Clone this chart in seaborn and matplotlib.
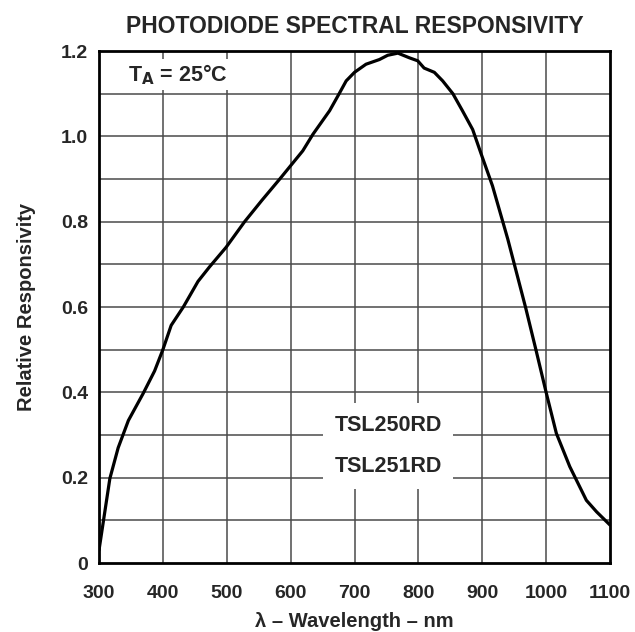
import matplotlib as mpl
import seaborn as sns
import pandas as pd
import numpy as np
plt = mpl.pyplot

# Curve
wavelength = [300, 317, 330, 346, 369, 387, 400, 413, 432, 455, 473, 499, 528,
              555, 583, 619, 635, 661, 676, 687, 700, 718, 739, 752, 768, 786,
              799, 809, 825, 838, 854, 869, 885, 898, 916, 940, 968, 984, 1000,
              1016, 1037, 1063, 1079, 1100]
responsivity = [0.03, 0.198, 0.27, 0.334, 0.397, 0.45, 0.50, 0.557, 0.60, 0.66,
                0.694, 0.74, 0.80, 0.85, 0.90, 0.966, 1.005, 1.06, 1.10, 1.13,
                1.15, 1.169, 1.18, 1.19, 1.195, 1.184, 1.177, 1.16, 1.15, 1.13,
                1.10, 1.06, 1.016, 0.96, 0.884, 0.759, 0.598, 0.50, 0.40, 0.304,
                0.226, 0.147, 0.12, 0.089]
x_ticks = [300, 400, 500, 600, 700, 800, 900, 1000, 1100]
y_ticks = [0, 0.2, 0.4, 0.6, 0.8, 1.0, 1.2]
y_tick_labels = ['0', '0.2', '0.4', '0.6', '0.8', '1.0', '1.2']

data = pd.DataFrame({'wl': wavelength, 'resp': responsivity})

sns.set_style('white')
mpl.rcParams['font.family'] = ['Liberation Sans', 'DejaVu Sans']
mpl.rcParams['font.weight'] = 'bold'

fig = plt.figure(figsize=(6.35, 6.32), dpi=100)
ax = fig.add_axes([99 / 635, 1 - 563 / 632, 511 / 635, 512 / 632])

# grid every 100 nm / 0.1
for x in range(400, 1100, 100):
    ax.axvline(x, color='#4a4a4a', lw=1.1, zorder=1)
for y in np.arange(0.1, 1.2, 0.1):
    ax.axhline(y, color='#4a4a4a', lw=1.1, zorder=1)

sns.lineplot(x='wl', y='resp', data=data, color='black', lw=2.3, ax=ax, zorder=3)

ax.set_xlim(300, 1100)
ax.set_ylim(0, 1.2)
ax.set_xticks(x_ticks)
ax.set_yticks(y_ticks)
ax.set_yticklabels(y_tick_labels)
ax.tick_params(length=0, labelsize=14, pad=8)
ax.tick_params(axis='x', pad=16)
for lab in ax.get_xticklabels() + ax.get_yticklabels():
    lab.set_fontweight('bold')
for s in ax.spines.values():
    s.set_linewidth(2.0)
    s.set_color('black')
    s.set_zorder(4)

ax.set_xlabel('λ – Wavelength – nm', fontsize=14.5, fontweight='bold', labelpad=7)
ax.set_ylabel('Relative Responsivity', fontsize=14.5, fontweight='bold', labelpad=18)
ax.set_title('PHOTODIODE SPECTRAL RESPONSIVITY', fontsize=16.5, fontweight='bold', pad=13)

ax.text(423, 1.145, r'T$_\mathbf{A}$ = 25°C', fontsize=15.5, fontweight='bold',
        ha='center', va='center', bbox=dict(facecolor='white', edgecolor='none', pad=2), zorder=2)
ax.text(753, 0.323, 'TSL250RD', fontsize=15.5, fontweight='bold',
        ha='center', va='center', bbox=dict(facecolor='white', edgecolor='none', pad=8), zorder=2)
ax.text(753, 0.225, 'TSL251RD', fontsize=15.5, fontweight='bold',
        ha='center', va='center', bbox=dict(facecolor='white', edgecolor='none', pad=8), zorder=2)

plt.savefig('out.png', dpi=100)
